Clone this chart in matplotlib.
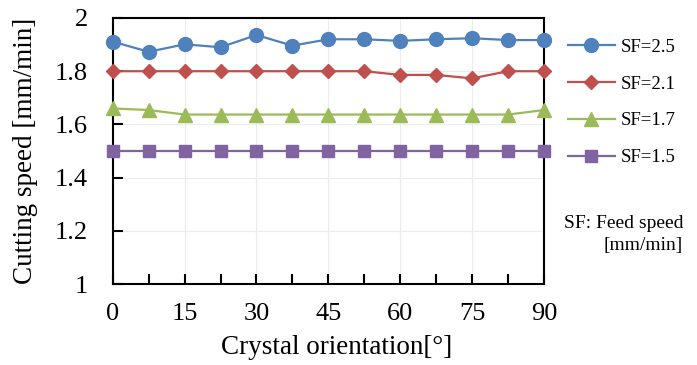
import numpy as np
import matplotlib.pyplot as plt

plt.rcParams['font.family'] = ['Liberation Serif', 'DejaVu Serif']

angles = [0, 7.5, 15, 22.5, 30, 37.5, 45, 52.5, 60, 67.5, 75, 82.5, 90]
sf25 = [1.911, 1.873, 1.901, 1.890, 1.936, 1.896, 1.920, 1.920, 1.914, 1.920, 1.924, 1.917, 1.917]
sf21 = [1.80, 1.80, 1.80, 1.80, 1.80, 1.80, 1.80, 1.80, 1.786, 1.786, 1.773, 1.80, 1.80]
sf17 = [1.66, 1.654, 1.637, 1.637, 1.637, 1.637, 1.637, 1.637, 1.637, 1.637, 1.637, 1.637, 1.654]
sf15 = [1.50] * 13

series = [
    (sf25, 'SF=2.5', '#4F81BD', 'o', 10),
    (sf21, 'SF=2.1', '#C0504D', 'D', 7.5),
    (sf17, 'SF=1.7', '#9BBB59', '^', 10),
    (sf15, 'SF=1.5', '#8064A2', 's', 9),
]

fig = plt.figure(figsize=(6.97, 3.65), dpi=100)
ax = fig.add_axes([0.1617, 0.2219, 0.6188, 0.7288])

for vals, lab, col, mk, ms in series:
    ax.plot(angles, vals, color=col, marker=mk, markersize=ms, linewidth=1.6,
            label=lab, clip_on=False, zorder=3)

ax.set_xlim(0, 90)
ax.set_ylim(1, 2)
ax.set_xticks(np.arange(0, 91, 15))
ax.set_xticks(np.arange(0, 91, 7.5), minor=True)
ax.set_yticks([1, 1.2, 1.4, 1.6, 1.8, 2])
ax.set_yticklabels(['1', '1.2', '1.4', '1.6', '1.8', '2'])
ax.grid(True, which='major', color='#ececec', linewidth=0.8, zorder=0)
ax.tick_params(axis='both', which='both', direction='in', labelsize=19,
               width=1.5, top=False, right=False)
ax.tick_params(axis='both', which='major', length=7)
ax.tick_params(axis='x', which='major', pad=14)
ax.tick_params(axis='y', which='major', pad=18)
ax.tick_params(axis='x', which='minor', length=7)
for sp in ax.spines.values():
    sp.set_linewidth(1.5)

ax.set_xlabel('Crystal orientation[°]', fontsize=19.5, labelpad=8)
ax.xaxis.set_label_coords(0.52, -0.19, transform=ax.transAxes)
ax.xaxis.label.set_va('top')
ax.set_ylabel('Cutting speed [mm/min]', fontsize=19.5, labelpad=12)

fig.legend(loc='upper left', bbox_to_anchor=(0.815, 0.894), frameon=False,
           fontsize=13.5, handlelength=2.5, handletextpad=0.3, labelspacing=1.05,
           borderaxespad=0, borderpad=0)

fig.text(0.980, 0.358, 'SF: Feed speed\n[mm/min]', ha='right', va='center',
         multialignment='right', fontsize=14, linespacing=1.4)

fig.savefig('out.png', dpi=100)
